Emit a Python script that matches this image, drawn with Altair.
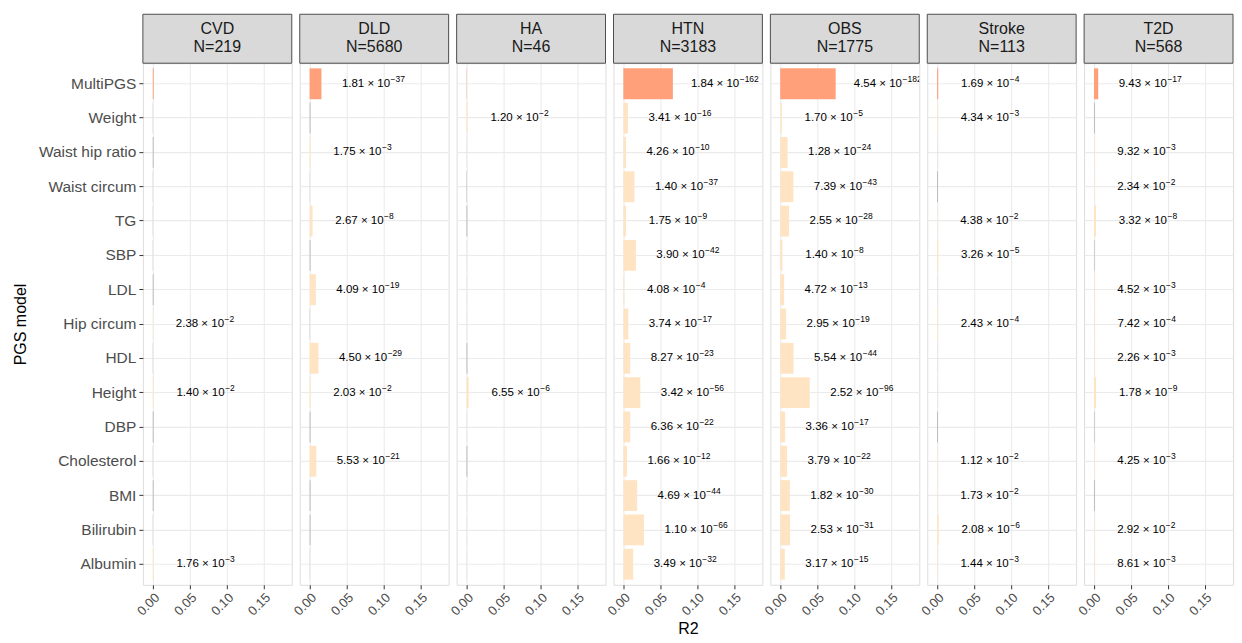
import altair as alt
import pandas as pd

# ---------------- data ----------------
models = ["MultiPGS", "Weight", "Waist hip ratio", "Waist circum", "TG", "SBP", "LDL",
          "Hip circum", "HDL", "Height", "DBP", "Cholesterol", "BMI", "Bilirubin", "Albumin"]
diseases = ["CVD", "DLD", "HA", "HTN", "OBS", "Stroke", "T2D"]
sample_sizes = [219, 5680, 46, 3183, 1775, 113, 568]

# R2 per PGS model (same order as models)
r2_cvd = [0.0013, 0.0003, 0.0012, 0.0003, 0.0003, 0.0003, 0.0012, 0.0004, 0.0003, 0.0012, 0.0012, 0.0003, 0.0012, 0.0003, 0.0012]
r2_dld = [0.016, 0.0012, 0.0012, 0.0003, 0.004, 0.0012, 0.0085, 0.0004, 0.012, 0.0012, 0.0012, 0.009, 0.0012, 0.0012, 0.0003]
r2_ha = [0.0004, 0.0015, 0.0002, 0.0006, 0.0012, 0.0002, 0.0002, 0.0002, 0.0012, 0.003, 0.0002, 0.0012, 0.0002, 0.0002, 0.0002]
r2_htn = [0.067, 0.0062, 0.0036, 0.015, 0.0036, 0.017, 0.0012, 0.0067, 0.0093, 0.023, 0.0093, 0.0049, 0.0187, 0.028, 0.0133]
r2_obs = [0.075, 0.002, 0.010, 0.0178, 0.012, 0.003, 0.0053, 0.008, 0.018, 0.040, 0.0067, 0.0093, 0.013, 0.0133, 0.0062]
r2_stroke = [0.0015, 0.0012, 0.0002, 0.0012, 0.0004, 0.0015, 0.0002, 0.0012, 0.0002, 0.0002, 0.0012, 0.0006, 0.0006, 0.0022, 0.0008]
r2_t2d = [0.0058, 0.0012, 0.0008, 0.0005, 0.0027, 0.0008, 0.0008, 0.001, 0.0008, 0.003, 0.0008, 0.0008, 0.0012, 0.0005, 0.0007]

# P values (None = not significant, no label)
p_cvd = [None, None, None, None, None, None, None, "2.38e-2", None, "1.40e-2", None, None, None, None, "1.76e-3"]
p_dld = ["1.81e-37", None, "1.75e-3", None, "2.67e-8", None, "4.09e-19", None, "4.50e-29", "2.03e-2", None, "5.53e-21", None, None, None]
p_ha = [None, "1.20e-2", None, None, None, None, None, None, None, "6.55e-6", None, None, None, None, None]
p_htn = ["1.84e-162", "3.41e-16", "4.26e-10", "1.40e-37", "1.75e-9", "3.90e-42", "4.08e-4", "3.74e-17", "8.27e-23", "3.42e-56", "6.36e-22", "1.66e-12", "4.69e-44", "1.10e-66", "3.49e-32"]
p_obs = ["4.54e-182", "1.70e-5", "1.28e-24", "7.39e-43", "2.55e-28", "1.40e-8", "4.72e-13", "2.95e-19", "5.54e-44", "2.52e-96", "3.36e-17", "3.79e-22", "1.82e-30", "2.53e-31", "3.17e-15"]
p_stroke = ["1.69e-4", "4.34e-3", None, None, "4.38e-2", "3.26e-5", None, "2.43e-4", None, None, None, "1.12e-2", "1.73e-2", "2.08e-6", "1.44e-3"]
p_t2d = ["9.43e-17", None, "9.32e-3", "2.34e-2", "3.32e-8", None, "4.52e-3", "7.42e-4", "2.26e-3", "1.78e-9", None, "4.25e-3", None, "2.92e-2", "8.61e-3"]

r2_all = [r2_cvd, r2_dld, r2_ha, r2_htn, r2_obs, r2_stroke, r2_t2d]
p_all = [p_cvd, p_dld, p_ha, p_htn, p_obs, p_stroke, p_t2d]

x_ticks = [0.0, 0.025, 0.05, 0.075, 0.10, 0.125, 0.15, 0.175]

rows = []
for d, r2s, ps in zip(diseases, r2_all, p_all):
    for m, r, p in zip(models, r2s, ps):
        if m == "MultiPGS":
            cat = "MultiPGS"
        elif p is not None:
            cat = "sig"
        else:
            cat = "ns"
        if p is not None:
            mant, ex = p.split("e")
            base = mant + " \u00d7 10"
            expo = "\u2212" + str(abs(int(ex)))
        else:
            base, expo = None, None
        rows.append({"disease": d, "model": m, "r2": r, "cat": cat, "base": base, "expo": expo})
df = pd.DataFrame(rows)

# ---------------- chart ----------------
FONT = "Liberation Sans"
W, H = 149, 522
PX_PER_UNIT = W / (0.188 + 0.0133)
BASE_FS, EXP_FS = 11.5, 8.5

xscale = alt.Scale(domain=[-0.0133, 0.188], nice=False, zero=False)
yscale = alt.Scale(domain=models, paddingInner=0.1, paddingOuter=0.15)
cscale = alt.Scale(domain=["MultiPGS", "sig", "ns"], range=["#FFA07A", "#FFE4C4", "#B8B8B8"])

major_test = "abs(datum.value*20 - round(datum.value*20)) < 0.001"


def x_axis(title):
    return alt.Axis(
        values=x_ticks,
        labelExpr=f"({major_test}) ? format(datum.value, '.2f') : ''",
        labelAngle=-45,
        labelFontSize=13,
        labelColor="#4D4D4D",
        labelFont=FONT,
        labelPadding=2,
        tickSize=4,
        tickColor="#333333",
        tickOpacity={"condition": {"test": major_test, "value": 1}, "value": 0},
        grid=True,
        gridColor="#EBEBEB",
        gridWidth={"condition": {"test": major_test, "value": 1.1}, "value": 0.55},
        domain=False,
        title=title,
        titleFontSize=16,
        titleFont=FONT,
        titleFontWeight="normal",
        titleColor="#000000",
        titlePadding=3,
    )


def y_axis(first):
    if first:
        return alt.Axis(title="PGS model", labelFontSize=15.5, labelColor="#4D4D4D", labelFont=FONT,
                        titleFontSize=16, titleFont=FONT, titleFontWeight="normal", titleColor="#000000",
                        tickSize=4, tickColor="#333333", labelPadding=3, domain=False,
                        grid=True, gridColor="#EBEBEB", gridWidth=1.1, bandPosition=0.5, titlePadding=10)
    return alt.Axis(title=None, labels=False, ticks=False, domain=False,
                    grid=True, gridColor="#EBEBEB", gridWidth=1.1, bandPosition=0.5)


panels = []
for i, (d, n) in enumerate(zip(diseases, sample_sizes)):
    sub = df[df["disease"] == d]
    base = alt.Chart(sub)
    bars = base.mark_bar().encode(
        x=alt.X("r2:Q", scale=xscale, axis=x_axis("R2" if i == 3 else None)),
        y=alt.Y("model:N", sort=models, scale=yscale, axis=y_axis(i == 0)),
        color=alt.Color("cat:N", scale=cscale, legend=None),
    )
    # label centred ~55 px right of the bar end; split point between mantissa and exponent
    lab = base.transform_filter("isValid(datum.base)").transform_calculate(
        anchor=(f"datum.r2 + (55 + (3.64*{BASE_FS} - {EXP_FS}*(0.584 + 0.556*(length(datum.expo)-1)))/2)"
                f"/{PX_PER_UNIT}")
    )
    txt_base = lab.mark_text(align="right", baseline="middle", fontSize=BASE_FS, font=FONT,
                             color="#000000", clip=True).encode(
        x=alt.X("anchor:Q", scale=xscale),
        y=alt.Y("model:N", sort=models, scale=yscale),
        text="base:N",
    )
    txt_exp = lab.mark_text(align="left", baseline="middle", fontSize=EXP_FS, font=FONT,
                            color="#000000", dx=0.5, dy=-5, clip=True).encode(
        x=alt.X("anchor:Q", scale=xscale),
        y=alt.Y("model:N", sort=models, scale=yscale),
        text="expo:N",
    )
    strip_df = pd.DataFrame({"label": [d], "n": ["N=%d" % n]})
    sbase = alt.Chart(strip_df)
    strip = sbase.mark_rect(fill="#D9D9D9", stroke="#4D4D4D", strokeWidth=1).encode(
        x=alt.value(0), x2=alt.value(W), y=alt.value(-49), y2=alt.value(0)
    )
    s1 = sbase.mark_text(fontSize=16, font=FONT, color="#1A1A1A", baseline="middle").encode(
        x=alt.value(W / 2), y=alt.value(-34), text="label:N"
    )
    s2 = sbase.mark_text(fontSize=16, font=FONT, color="#1A1A1A", baseline="middle").encode(
        x=alt.value(W / 2), y=alt.value(-16), text="n:N"
    )
    panels.append(alt.layer(bars, txt_base, txt_exp, strip, s1, s2).properties(width=W, height=H))

chart = alt.hconcat(*panels, spacing=8, bounds="flush").properties(
    padding={"left": 3, "top": 5, "right": 0, "bottom": 0}
).configure_view(stroke="#4D4D4D", strokeWidth=1.1).configure(background="white")

chart.save("out.html", embed_options={"renderer": "svg", "actions": False})
